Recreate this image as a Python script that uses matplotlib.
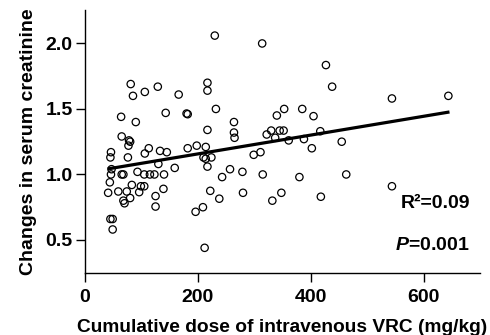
import matplotlib
matplotlib.use("Agg")
import matplotlib.pyplot as plt

# Data
dose = [46, 45, 47, 46, 44, 41, 45, 49, 49,
        64, 65, 78, 80, 77, 76, 65, 68, 59, 74, 83, 80, 68, 70, 81, 85, 90,
        106, 129, 143, 106, 113, 133, 145, 130, 93, 105, 115, 123, 140, 99, 105,
        96, 125, 139, 125, 159,
        166, 180, 182, 182, 198, 214, 217, 217, 217, 232, 230, 210, 214, 224,
        217, 243, 222, 238, 209, 196, 212, 264, 264, 265,
        257, 279, 315, 280, 332, 348, 299, 311, 314, 322, 330, 345, 352, 340,
        353, 337,
        361, 385, 388, 405, 417, 402, 380, 418, 427, 438, 455, 463, 544, 544, 644]
creat = [1.17, 1.13, 1.04, 1.00, 0.94, 0.86, 0.66, 0.66, 0.58,
         1.44, 1.29, 1.26, 1.25, 1.22, 1.13, 1.00, 1.00, 0.87, 0.87, 0.92, 0.82,
         0.80, 0.78, 1.69, 1.60, 1.40,
         1.63, 1.67, 1.47, 1.16, 1.20, 1.18, 1.17, 1.08, 1.02, 1.00, 1.00, 1.00,
         1.00, 0.91, 0.91, 0.865, 0.835, 0.89, 0.755, 1.05,
         1.61, 1.465, 1.46, 1.20, 1.22, 1.21, 1.34, 1.70, 1.64, 1.50, 2.06, 1.13,
         1.12, 1.13, 1.06, 0.98, 0.875, 0.815, 0.75, 0.715, 0.44, 1.40, 1.32, 1.28,
         1.04, 1.02, 1.00, 0.86, 0.80, 0.86, 1.15, 1.17, 2.00, 1.305, 1.335, 1.335,
         1.335, 1.45, 1.50, 1.28,
         1.26, 1.50, 1.27, 1.445, 1.33, 1.20, 0.98, 0.83, 1.835, 1.67, 1.25, 1.00,
         1.58, 0.91, 1.60]

fit_x = [40, 646]
fit_y = [1.042, 1.477]

x_ticks = [0, 200, 400, 600]
y_ticks = [0.5, 1.0, 1.5, 2.0]

plt.rcParams['font.family'] = ['Liberation Sans', 'DejaVu Sans']
plt.rcParams['font.weight'] = 'bold'
plt.rcParams['mathtext.fontset'] = 'custom'
plt.rcParams['mathtext.bfit'] = 'Liberation Sans:bold:italic'

fig = plt.figure(figsize=(4.9, 3.35), dpi=100)
ax = fig.add_axes([0.1735, 0.184, 0.806, 0.786])

ax.scatter(dose, creat, s=28, facecolors='none', edgecolors='black',
           linewidths=0.9, zorder=3)
ax.plot(fit_x, fit_y, color='black', linewidth=2.3, zorder=2,
        solid_capstyle='butt')

ax.set_xlim(0, 700)
ax.set_ylim(0.245, 2.255)
ax.set_xticks(x_ticks)
ax.set_yticks(y_ticks)
ax.set_yticklabels([f"{v:.1f}" for v in y_ticks])

for s in ['top', 'right']:
    ax.spines[s].set_visible(False)
for s in ['left', 'bottom']:
    ax.spines[s].set_linewidth(1.0)

ax.tick_params(axis='both', direction='out', length=6.5, width=1.0,
               labelsize=14)
ax.tick_params(axis='x', pad=5)
ax.tick_params(axis='y', pad=2.5)
for lab in ax.get_xticklabels() + ax.get_yticklabels():
    lab.set_fontweight('bold')

ax.set_xlabel('Cumulative dose of intravenous VRC (mg/kg)', fontsize=13.8,
              fontweight='bold', labelpad=9)
ax.set_ylabel('Changes in serum creatinine', fontsize=14, fontweight='bold',
              labelpad=6)

ax.text(0.975, 0.265, 'R²=0.09', transform=ax.transAxes,
        ha='right', va='center', fontsize=14, fontweight='bold')
ax.text(0.975, 0.105, '$\\mathbfit{P}$=0.001', transform=ax.transAxes,
        ha='right', va='center', fontsize=14, fontweight='bold')

fig.savefig('out.png', dpi=100)
